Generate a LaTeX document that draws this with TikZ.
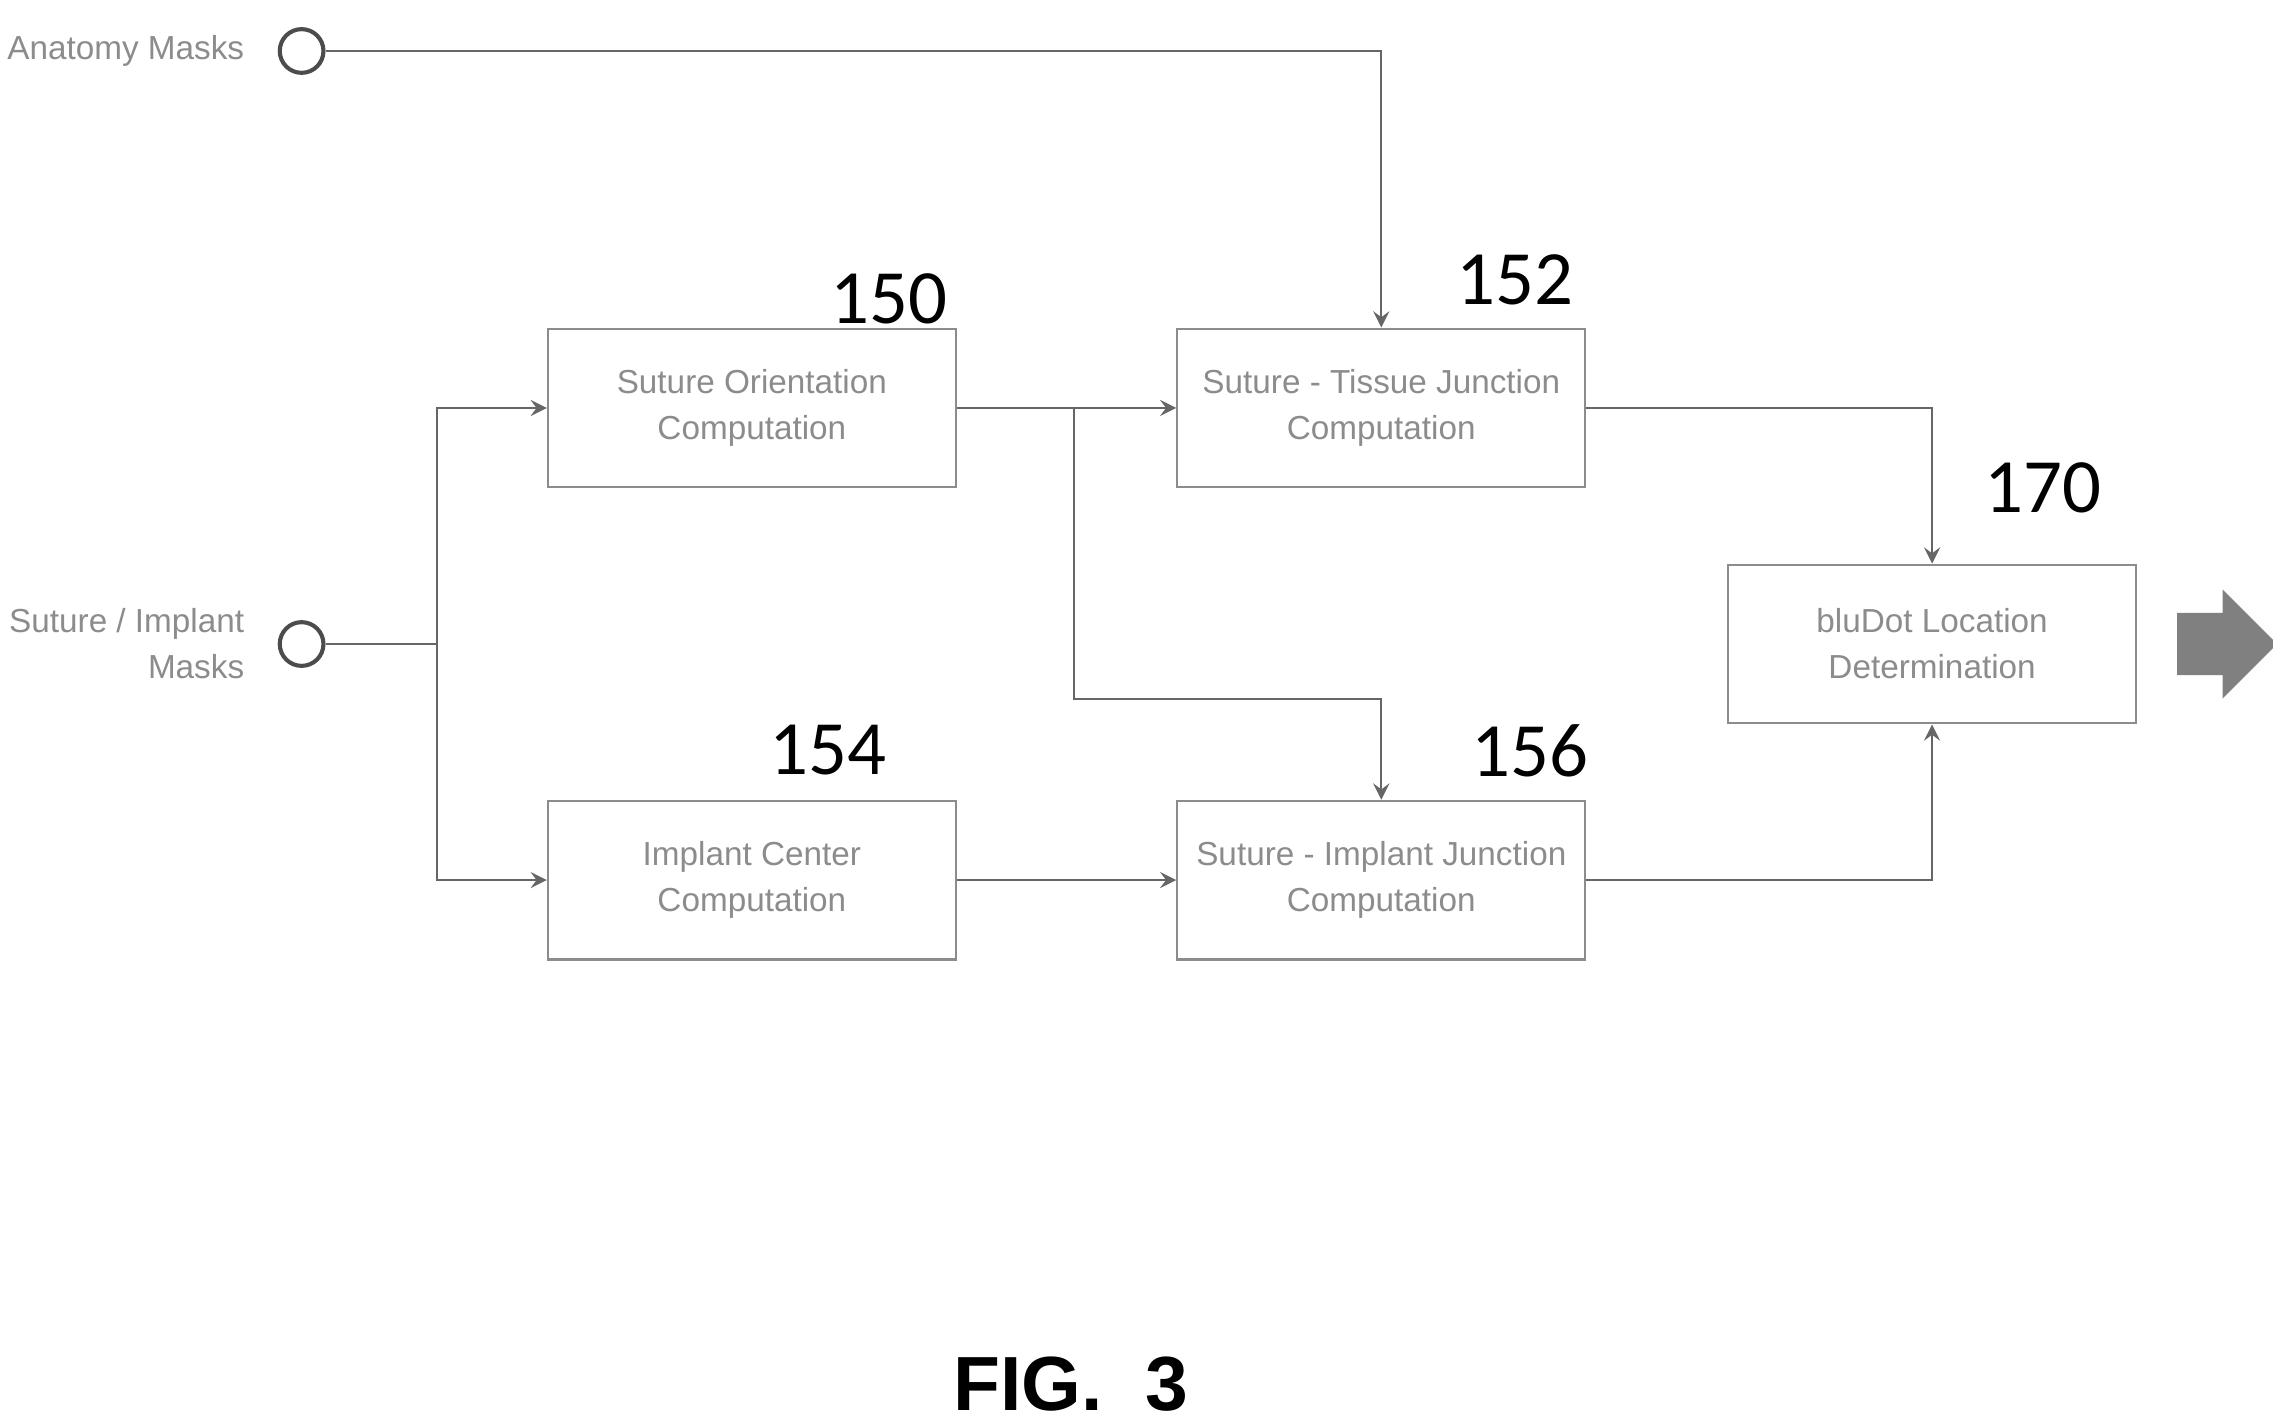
\documentclass[tikz,border=0pt]{standalone}
\usepackage{fontspec}
\setmainfont{Liberation Sans}
\newfontfamily\numfont{Carlito}
\usetikzlibrary{shapes.arrows, arrows}
\tikzstyle{block} = [rectangle, minimum width=2.8cm, minimum height=1.09cm, align=center, draw=black!45, text=black!45, font=\fontsize{6.5}{9}\selectfont]
\tikzstyle{port} = [circle, draw=black!70, thick, minimum size=0.3cm, inner sep=0pt]
\tikzstyle{lbl} = [font=\fontsize{6.5}{9}\selectfont, text=black!45, align=right, anchor=east]
\tikzstyle{num} = [font=\numfont\fontsize{15}{15}\selectfont]
\tikzstyle{arrow} = [draw=black!60, ->, >=stealth]
\tikzstyle{line} = [draw=black!60]

\begin{document}
\begin{tikzpicture}
\useasboundingbox (0,0) rectangle (15.6,9.78);
\node (anat) [port] at (2.07,9.43) {};
\node (suti) [port] at (2.07,5.36) {};
\node [lbl] at (1.8,9.43) {Anatomy Masks};
\node [lbl] at (1.8,5.36) {Suture / Implant\\Masks};

\node (orient) [block] at (5.16,6.98) {Suture Orientation\\Computation};
\node (tissue) [block] at (9.48,6.98) {Suture - Tissue Junction\\Computation};
\node (center) [block] at (5.16,3.74) {Implant Center\\Computation};
\node (implant) [block] at (9.48,3.74) {Suture - Implant Junction\\Computation};
\node (budot) [block] at (13.26,5.36) {bluDot Location\\Determination};

\node [num] at (6.1,7.73) {150};
\node [num] at (10.4,7.86) {152};
\node [num] at (5.68,4.63) {154};
\node [num] at (10.5,4.63) {156};
\node [num] at (14.02,6.43) {170};

\coordinate (split) at (3.0,5.36);
\coordinate (branch) at (7.37,6.98);

\draw [line] (suti) -- (split);
\draw [arrow] (split) |- (orient);
\draw [arrow] (split) |- (center);
\draw [arrow] (anat) -| (tissue);
\draw [arrow] (orient) -- (tissue);
\draw [arrow] (center) -- (implant);
\draw [arrow] (branch) |- (9.48,4.98) -- (implant);
\draw [arrow] (tissue) -| (budot);
\draw [arrow] (implant) -| (budot);

\node (out) [single arrow, fill=black!50, draw=black!50, minimum height=0.67cm, inner xsep=0pt, inner ysep=0.2cm, single arrow head extend=0.15cm] at (15.18,5.36) {};
\node (fig) [font=\bfseries\fontsize{15}{15}\selectfont] at (7.35,0.28) {FIG.\ \ 3};
\end{tikzpicture}
\end{document}
